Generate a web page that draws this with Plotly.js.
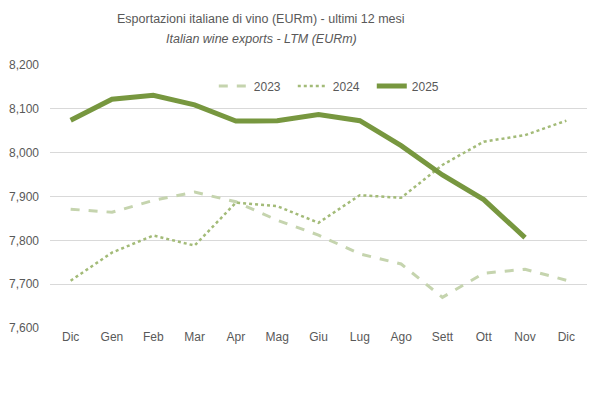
<!DOCTYPE html>
<html>
<head>
<meta charset="utf-8">
<script src="https://cdn.plot.ly/plotly-3.0.1.min.js"></script>
<style>html,body{margin:0;padding:0;background:#fff;}#chart{width:602px;height:394px;}</style>
</head>
<body>
<div id="chart"></div>
<script>
const months = ["Dic","Gen","Feb","Mar","Apr","Mag","Giu","Lug","Ago","Sett","Ott","Nov","Dic"];
const xIdx = [0,1,2,3,4,5,6,7,8,9,10,11,12];
const values2023 = [7871,7864,7891,7910,7888,7846,7812,7769,7746,7670,7725,7734,7709];
const values2024 = [7708,7772,7811,7788,7886,7878,7840,7903,7897,7972,8025,8040,8073];
const values2025 = [8074,8122,8131,8109,8072,8073,8087,8073,8016,7949,7893,7806];
const yTicks = [7600,7700,7800,7900,8000,8100,8200];
const titleLine1 = "Esportazioni italiane di vino (EURm) - ultimi 12 mesi";
const titleLine2 = "Italian wine exports - LTM (EURm)";

const traces = [
  {x: xIdx, y: values2023, name: "2023", mode: "lines",
   line: {color: "#C5D4AE", width: 3, dash: "dash"}},
  {x: xIdx, y: values2024, name: "2024", mode: "lines",
   line: {color: "#A3BB78", width: 2.5, dash: "dot"}},
  {x: xIdx.slice(0, values2025.length), y: values2025, name: "2025", mode: "lines",
   line: {color: "#77973F", width: 5}}
];

const titleFont = {family: "Liberation Sans, Arial, sans-serif", size: 12.5, color: "#595959"};

const layout = {
  width: 602, height: 394,
  margin: {l: 50, r: 15, t: 65, b: 66},
  paper_bgcolor: "#ffffff", plot_bgcolor: "#ffffff",
  font: {family: "Liberation Sans, Arial, sans-serif", color: "#595959", size: 12},
  annotations: [
    {text: titleLine1, xref: "paper", yref: "paper", showarrow: false,
     font: titleFont, xanchor: "center", yanchor: "middle"},
    {text: "<i>" + titleLine2 + "</i>", xref: "paper", yref: "paper", showarrow: false,
     font: titleFont, xanchor: "center", yanchor: "middle"}
  ],
  xaxis: {
    range: [-0.5, 12.5], tickmode: "array", tickvals: xIdx, ticktext: months,
    showgrid: false, zeroline: false, showline: false, ticks: "",
    tickfont: {size: 12, color: "#595959"}, fixedrange: true
  },
  yaxis: {
    range: [7600, 8200], tickmode: "array", tickvals: yTicks,
    ticktext: yTicks.map(v => v.toLocaleString("en-US")),
    showgrid: true, gridcolor: "#D9D9D9", gridwidth: 1, zeroline: false, showline: false,
    ticks: "", ticklen: 0, ticklabelstandoff: 10, tickfont: {size: 12, color: "#595959"}
  },
  showlegend: true,
  legend: {
    orientation: "h", xref: "paper", x: 0.305, xanchor: "left",
    yref: "paper", y: 0.92, yanchor: "middle",
    font: {size: 12, color: "#595959"}, bgcolor: "rgba(0,0,0,0)",
    itemwidth: 30, tracegroupgap: 0, entrywidth: 34, entrywidthmode: "pixels"
  }
};
// convert title pixel positions to paper coordinates
const pl = 50, pw = 602 - 50 - 15, pt = 65, ph = 394 - 65 - 66;
const toPX = px => (px - pl) / pw;
const toPY = py => 1 - (py - pt) / ph;
layout.annotations[0].x = toPX(261); layout.annotations[0].y = toPY(19);
layout.annotations[1].x = toPX(261); layout.annotations[1].y = toPY(39);

Plotly.newPlot("chart", traces, layout, {displayModeBar: false, staticPlot: true});
</script>
</body>
</html>
